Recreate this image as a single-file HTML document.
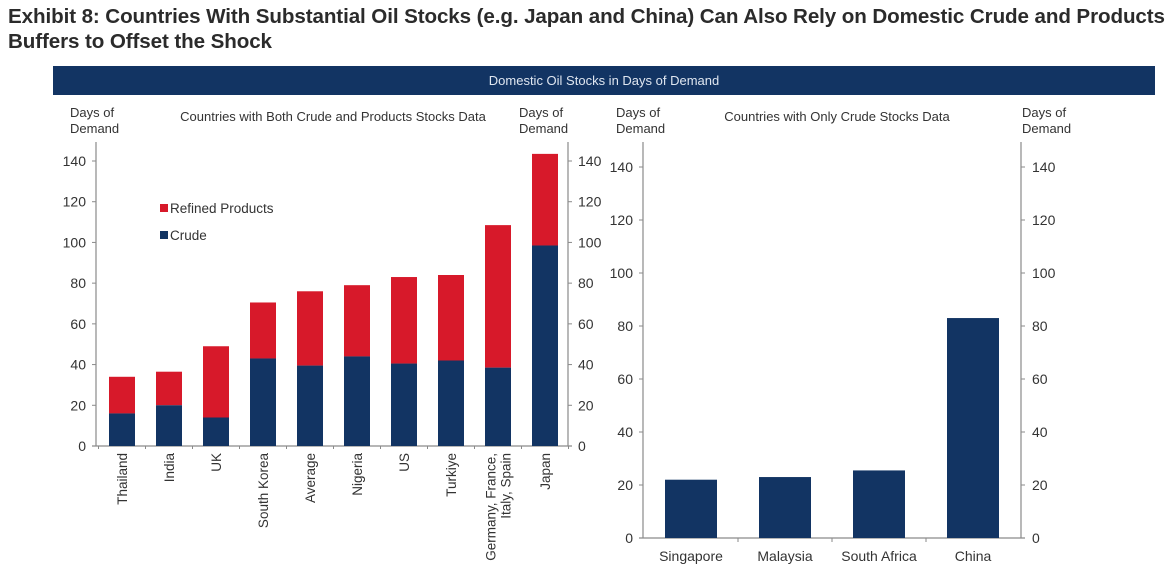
<!DOCTYPE html>
<html><head><meta charset="utf-8">
<style>
html,body{margin:0;padding:0;background:#fff;}
body{width:1170px;height:584px;overflow:hidden;position:relative;font-family:"Liberation Sans",Arial,sans-serif;}
.title{position:absolute;left:8px;top:4px;font-size:20.6px;font-weight:bold;color:#2b2b2b;line-height:25px;letter-spacing:-0.1px;white-space:nowrap;}
svg{position:absolute;left:0;top:0;}
</style></head>
<body>
<div class="title">Exhibit 8: Countries With Substantial Oil Stocks (e.g. Japan and China) Can Also Rely on Domestic Crude and Products<br>Buffers to Offset the Shock</div>
<svg id="chart" width="1170" height="584"></svg>
<script>
const leftCats = ["Thailand","India","UK","South Korea","Average","Nigeria","US","Turkiye","Germany, France,|Italy, Spain","Japan"];
const leftCrude = [16,20,14,43,39.5,44,40.5,42,38.5,98.5];
const leftTotal = [34,36.5,49,70.5,76,79,83,84,108.5,143.5];
const rightCats = ["Singapore","Malaysia","South Africa","China"];
const rightCrude = [22,23,25.5,83];
const yTicks = [0,20,40,60,80,100,120,140];

const NS="http://www.w3.org/2000/svg";
const svg=document.getElementById('chart');
const NAVY="#123463", RED="#d7192a", AX="#8a8a8a", TX="#333";
function mk(tag,attrs,parent){const e=document.createElementNS(NS,tag);for(const k in attrs)e.setAttribute(k,attrs[k]);(parent||svg).appendChild(e);return e;}
function txt(x,y,s,attrs){const e=mk('text',Object.assign({x:x,y:y,'font-size':13,fill:TX,'font-family':'Liberation Sans, Arial, sans-serif'},attrs||{}));e.textContent=s;return e;}

const banner=mk('rect',{x:53,y:66,width:1102,height:29,fill:"#123463"});


const bt=txt(604,85,"Domestic Oil Stocks in Days of Demand",{'text-anchor':'middle',fill:'#dfe6f0','font-size':13});



const L={x0:96,x1:568,y0:446,pxPer:(446-161)/140,step:47,first:122,bw:26};
function ly(v){return L.y0-v*L.pxPer;}
function lx(i){return L.first+i*L.step;}
const lAxisL=mk('line',{x1:L.x0,y1:ly(0),x2:L.x0,y2:142,stroke:AX,'stroke-width':1.2});


const lAxisR=mk('line',{x1:L.x1,y1:ly(0),x2:L.x1,y2:142,stroke:AX,'stroke-width':1.2});


const lAxisX=mk('line',{x1:L.x0-4,y1:ly(0),x2:L.x1+4,y2:ly(0),stroke:AX,'stroke-width':1.2});


yTicks.forEach(v=>{
  mk('line',{x1:L.x0-4,y1:ly(v),x2:L.x0,y2:ly(v),stroke:AX});
  mk('line',{x1:L.x1,y1:ly(v),x2:L.x1+4,y2:ly(v),stroke:AX});
  const a=txt(L.x0-10,ly(v)+5,String(v),{'text-anchor':'end','font-size':14});
  
  
  const b=txt(L.x1+10,ly(v)+5,String(v),{'font-size':14});
  
  
});
for(let i=0;i<=leftCats.length;i++){const x=lx(i)-L.step/2;mk('line',{x1:x,y1:ly(0),x2:x,y2:ly(0)+3,stroke:AX});}
leftCats.forEach((c,i)=>{
  const x=lx(i);
  const r1=mk('rect',{x:x-L.bw/2,y:ly(leftTotal[i]),width:L.bw,height:ly(leftCrude[i])-ly(leftTotal[i]),fill:RED});
  
  
  const r2=mk('rect',{x:x-L.bw/2,y:ly(leftCrude[i]),width:L.bw,height:ly(0)-ly(leftCrude[i]),fill:NAVY});
  
  
  const lines=c.split('|');
  lines.forEach((s,j)=>{
    const off=(j-(lines.length-1)/2)*15;
    const t=txt(0,0,s,{'text-anchor':'end','font-size':13.5,transform:`translate(${x+5+off},453) rotate(-90)`});
    
    
  });
});
[["Days of",117],["Demand",133]].forEach(([s,y])=>{
  const t=txt(70,y,s,{'font-size':13});
  const u=txt(519,y,s,{'font-size':13});
});
const lt=txt(333,121,"Countries with Both Crude and Products Stocks Data",{'text-anchor':'middle','font-size':13});


const lg1=mk('rect',{x:160,y:204,width:8,height:8,fill:RED});


const lg1t=txt(170,213,"Refined Products",{'font-size':13.5});


const lg2=mk('rect',{x:160,y:231,width:8,height:8,fill:NAVY});


const lg2t=txt(170,240,"Crude",{'font-size':13.5});



const R={x0:643,x1:1021,y0:538,pxPer:(538-167)/140,step:94,first:691,bw:52};
function ry(v){return R.y0-v*R.pxPer;}
function rx(i){return R.first+i*R.step;}
const rAxisL=mk('line',{x1:R.x0,y1:ry(0),x2:R.x0,y2:142,stroke:AX,'stroke-width':1.2});


const rAxisR=mk('line',{x1:R.x1,y1:ry(0),x2:R.x1,y2:142,stroke:AX,'stroke-width':1.2});


const rAxisX=mk('line',{x1:R.x0-4,y1:ry(0),x2:R.x1+4,y2:ry(0),stroke:AX,'stroke-width':1.2});


yTicks.forEach(v=>{
  mk('line',{x1:R.x0-4,y1:ry(v),x2:R.x0,y2:ry(v),stroke:AX});
  mk('line',{x1:R.x1,y1:ry(v),x2:R.x1+4,y2:ry(v),stroke:AX});
  const a=txt(R.x0-10,ry(v)+5,String(v),{'text-anchor':'end','font-size':14});
  
  
  const b=txt(R.x1+11,ry(v)+5,String(v),{'font-size':14});
  
  
});
for(let i=1;i<rightCats.length;i++){const x=rx(i)-R.step/2;mk('line',{x1:x,y1:ry(0),x2:x,y2:ry(0)+4,stroke:AX});}
rightCats.forEach((c,i)=>{
  const x=rx(i);
  const r=mk('rect',{x:x-R.bw/2,y:ry(rightCrude[i]),width:R.bw,height:ry(0)-ry(rightCrude[i]),fill:NAVY});
  
  
  const t=txt(x,561,c,{'text-anchor':'middle','font-size':14});
  
  
});
[["Days of",117],["Demand",133]].forEach(([s,y])=>{
  const t=txt(616,y,s,{'font-size':13});
  const u=txt(1022,y,s,{'font-size':13});
});
const rt=txt(837,121,"Countries with Only Crude Stocks Data",{'text-anchor':'middle','font-size':13});


</script>
</body></html>
